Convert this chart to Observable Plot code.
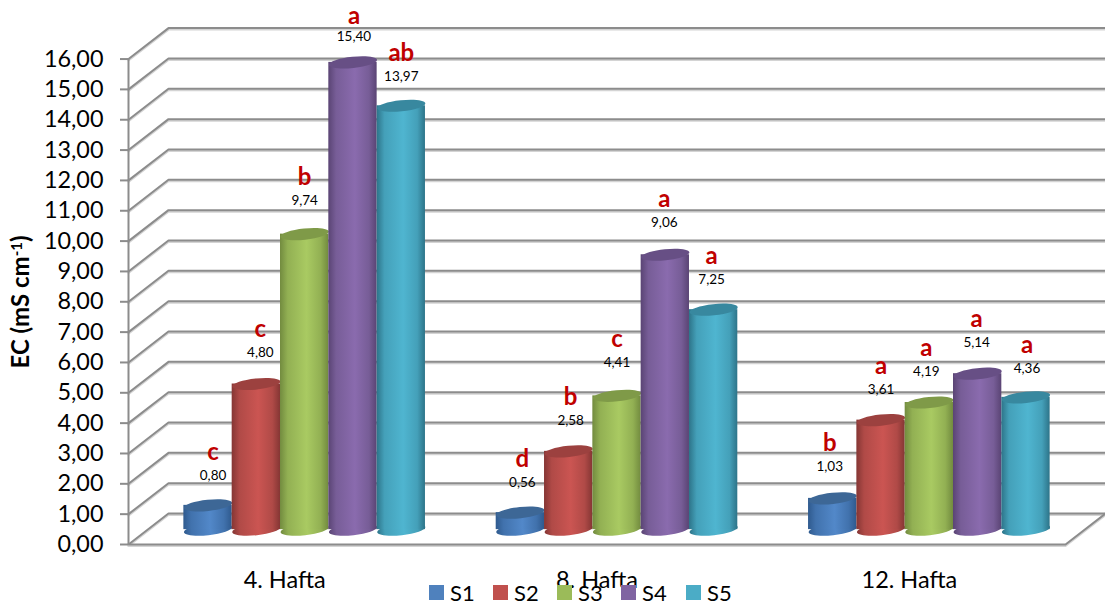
<!DOCTYPE html>
<html>
<head>
<meta charset="utf-8">
<script src="https://cdn.jsdelivr.net/npm/d3@7"></script>
<script src="https://cdn.jsdelivr.net/npm/@observablehq/plot@0.6"></script>
<style>
  html, body { margin: 0; padding: 0; background: #fff; }
  #chart { position: relative; width: 1105px; height: 607px; font-family: Lato, "Open Sans", sans-serif; }
  #chart svg { position: absolute; left: 0; top: 0; }
  .legend { position: absolute; top: 578px; height: 28px; display: flex; align-items: center; font-size: 22px; color: #000; }
  .legend i { display: inline-block; width: 15px; height: 15px; margin-right: 6px; }
</style>
</head>
<body>
<div id="chart"></div>
<script>
const groups = ["4. Hafta", "8. Hafta", "12. Hafta"];
const seriesNames = ["S1", "S2", "S3", "S4", "S5"];

const s1Values = [0.80, 0.56, 1.03];
const s2Values = [4.80, 2.58, 3.61];
const s3Values = [9.74, 4.41, 4.19];
const s4Values = [15.40, 9.06, 5.14];
const s5Values = [13.97, 7.25, 4.36];
const seriesValues = [s1Values, s2Values, s3Values, s4Values, s5Values];

const s1Letters = ["c", "d", "b"];
const s2Letters = ["c", "b", "a"];
const s3Letters = ["b", "c", "a"];
const s4Letters = ["a", "a", "a"];
const s5Letters = ["ab", "a", "a"];
const seriesLetters = [s1Letters, s2Letters, s3Letters, s4Letters, s5Letters];

// Hand placement of the annotations relative to each cylinder top, in pixels.
const labelNudgeX = [[5, 2, -3], [4, 2, 0], [0, 0, -3], [1, -1, -1], [0, -2, 1]];
const labelNudgeY = [[-30, -30, -32], [-31, -31, -30], [-33, -33, -31], [-26, -32, -31], [-29, -30, -29]];
const letterGap = [[23.5, 23.5, 23.5], [23.5, 23.5, 23.5], [23.5, 23.5, 23.5], [20.5, 23.5, 23.5], [23.5, 23.5, 23.5]];

const yTicks = d3.range(0, 17);

// Palette: [flat colour, dark edge, mid shade, highlight, top cap]
const palette = [
  ["#4f81bd", "#2f5a8e", "#4172ad", "#5288c9", "#3d6796"],
  ["#c0504d", "#853634", "#b04a47", "#cb5552", "#9c413f"],
  ["#9bbb59", "#728b3f", "#92b053", "#a9ca62", "#7f9a48"],
  ["#8064a2", "#5a4474", "#775d97", "#8a6bae", "#674f85"],
  ["#4bacc6", "#2d7489", "#44a0b9", "#4fb5d0", "#38889f"]
];

// Oblique projection of the 3-D frame, in scale units.
const depthX = 0.128;
const depthY = 1.02;
const floorDepth = 0.49;
const slot = 0.1547;

const cylinderX = (g, s) => g + 0.5 + depthX / 2 + (s - 2) * slot;

// Flattened circle used for the caps and bases of the cylinders.
const flatEllipse = {
  draw(ctx, size) {
    const rx = Math.sqrt(size / Math.PI);
    const ry = rx * 0.23;
    const k = 0.5523;
    ctx.moveTo(-rx, 0);
    ctx.bezierCurveTo(-rx, -k * ry, -k * rx, -ry, 0, -ry);
    ctx.bezierCurveTo(k * rx, -ry, rx, -k * ry, rx, 0);
    ctx.bezierCurveTo(rx, k * ry, k * rx, ry, 0, ry);
    ctx.bezierCurveTo(-k * rx, ry, -rx, k * ry, -rx, 0);
    ctx.closePath();
  }
};

const gradients = () => {
  const defs = d3.create("svg:defs");
  palette.forEach(([, dark, mid, light], i) => {
    const g = defs.append("linearGradient").attr("id", `cyl${i}`).attr("x1", 0).attr("x2", 1).attr("y1", 0).attr("y2", 0);
    [[0, dark], [0.16, mid], [0.55, light], [0.84, mid], [1, dark]].forEach(([o, c]) => {
      g.append("stop").attr("offset", o).attr("stop-color", c);
    });
  });
  return defs.node();
};

const gridRows = yTicks.flatMap((v) => [
  {v, x: 0, y: v},
  {v, x: depthX, y: v + depthY},
  {v, x: 3 + depthX, y: v + depthY}
]);
const floorEdge = [
  {x: 0, y: 0},
  {x: 3, y: 0},
  {x: 3 + depthX, y: depthY}
];

const cylinderMarks = groups.flatMap((_, g) =>
  seriesNames.flatMap((_, s) => {
    const value = seriesValues[s][g];
    const cx = cylinderX(g, s);
    const row = [{x: cx, y1: floorDepth, y2: value + floorDepth}];
    return [
      Plot.dot(row, {x: "x", y: "y1", r: 24.2, symbol: flatEllipse, rotate: -6, fill: `url(#cyl${s})`, stroke: "none"}),
      Plot.rectY(row, {x1: cx - slot / 2, x2: cx + slot / 2, y1: "y1", y2: "y2", fill: `url(#cyl${s})`}),
      Plot.dot(row, {x: "x", y: "y2", r: 24.2, symbol: flatEllipse, rotate: -6, fill: palette[s][4], stroke: "none"})
    ];
  })
);

const annotationMarks = groups.flatMap((_, g) =>
  seriesNames.flatMap((_, s) => {
    const value = seriesValues[s][g];
    const row = [{x: cylinderX(g, s), y: value + floorDepth}];
    const dx = labelNudgeX[s][g];
    const dy = labelNudgeY[s][g];
    return [
      Plot.text(row, {x: "x", y: "y", text: () => value.toFixed(2).replace(".", ","), dx, dy, fontSize: 13.5, fill: "#000"}),
      Plot.text(row, {x: "x", y: "y", text: () => seriesLetters[s][g], dx, dy: dy - letterGap[s][g], fontSize: 24, fontWeight: 700, fill: "#c00000"})
    ];
  })
);

const plot = Plot.plot({
  width: 1105,
  height: 607,
  marginLeft: 128,
  marginRight: 0,
  marginTop: 27,
  marginBottom: 63,
  style: {background: "transparent", fontFamily: "Lato, 'Open Sans', sans-serif"},
  x: {domain: [0, 3 + depthX], label: null},
  y: {domain: [0, 16 + depthY + 0.02], label: null},
  marks: [
    gradients,
    Plot.line(gridRows, {x: "x", y: "y", z: "v", stroke: "#d4d4d4", strokeWidth: 2, dy: 1.5}),
    Plot.line(gridRows, {x: "x", y: "y", z: "v", stroke: "#8c8c8c", strokeWidth: 2}),
    Plot.line(floorEdge, {x: "x", y: "y", stroke: "#d4d4d4", strokeWidth: 2, dy: 1.5}),
    Plot.line(floorEdge, {x: "x", y: "y", stroke: "#8c8c8c", strokeWidth: 2}),
    Plot.ruleX([0], {y1: 0, y2: 16, stroke: "#8c8c8c", strokeWidth: 2}),
    Plot.axisY({
      ticks: yTicks,
      tickFormat: (d) => d.toFixed(2).replace(".", ","),
      tickSize: 8,
      tickPadding: 17,
      stroke: "#8c8c8c",
      strokeWidth: 2,
      fill: "#000",
      fontSize: 23.4,
      label: null
    }),
    Plot.axisX({
      ticks: groups.map((_, i) => i + 0.5),
      tickFormat: (d) => groups[Math.floor(d)],
      tickSize: 0,
      tickPadding: 27,
      fill: "#000",
      fontSize: 23.5,
      label: null
    }),
    Plot.text(["EC (mS cm-1)"], {
      frameAnchor: "left",
      textAnchor: "middle",
      dx: -107,
      dy: 16,
      rotate: -90,
      fontSize: 24,
      fontWeight: 700,
      fill: "#000",
      render(index, scales, values, dimensions, context, next) {
        const node = next(index, scales, values, dimensions, context);
        const t = node.querySelector("text");
        t.textContent = "";
        const sel = d3.select(t);
        sel.append("tspan").text("EC (mS cm");
        sel.append("tspan").attr("dy", -7).attr("font-size", 15).text("-1");
        sel.append("tspan").attr("dy", 7).text(")");
        return node;
      }
    }),
    ...cylinderMarks,
    ...annotationMarks
  ]
});

const root = document.getElementById("chart");
root.append(plot);

// Legend row sits over the lower edge of the chart.
const legendSwatchLeft = [429, 493, 557, 621, 686];
seriesNames.forEach((name, i) => {
  const item = document.createElement("div");
  item.className = "legend";
  item.style.left = legendSwatchLeft[i] + "px";
  const swatch = document.createElement("i");
  swatch.style.background = palette[i][0];
  item.append(swatch, document.createTextNode(name));
  root.append(item);
});
</script>
</body>
</html>
